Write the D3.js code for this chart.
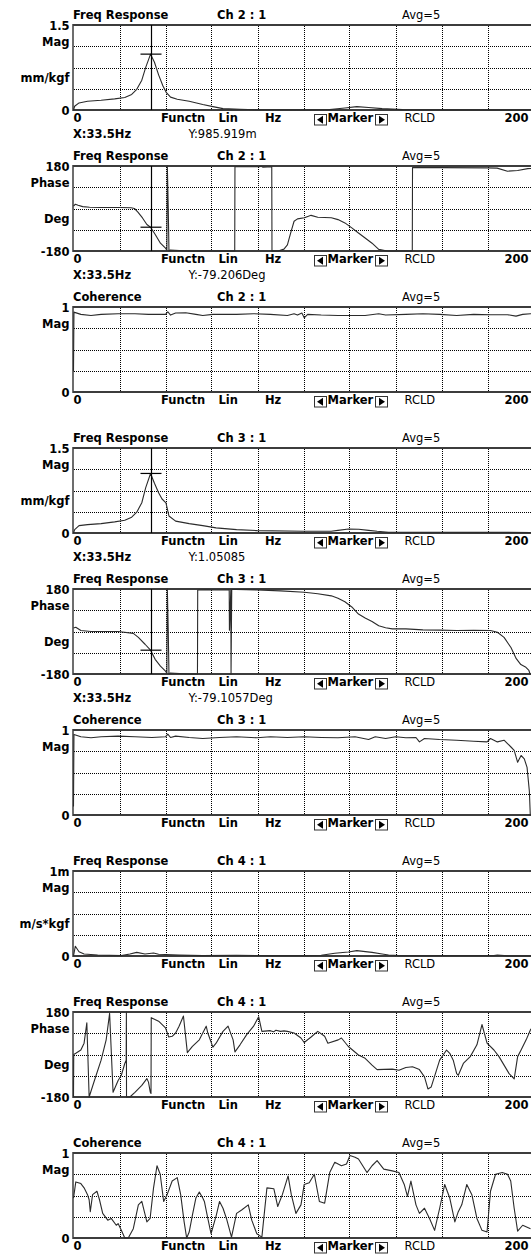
<!DOCTYPE html>
<html><head><meta charset="utf-8">
<script src="https://cdn.jsdelivr.net/npm/d3@7"></script>
<style>
html,body{margin:0;padding:0;background:#fff;}
svg{display:block;}
text{font-family:"DejaVu Sans",Verdana,sans-serif;font-size:11.5px;fill:#000;}
.b{font-weight:bold;}
</style></head><body>
<svg id="chart" width="531" height="1254"></svg>
<script>
// ---- measured traces: [frequency Hz, value] ----
const ch2Mag = [[0,0],[0.5,0.066],[2.4,0.125],[6.1,0.155],[12,0.173],[17.9,0.197],[22.3,0.221],[25.3,0.275],[27.5,0.365],[29.7,0.526],[31.4,0.753],[33.5,0.985919],[35.2,0.843],[37,0.62],[38.9,0.424],[40.4,0.305],[42.2,0.227],[45.1,0.191],[50.3,0.155],[56.2,0.096],[60.6,0.06],[65,0.024],[72.4,0.012],[79.8,0.005],[100,0.003],[111.4,0.01],[118,0.036],[123.2,0.06],[128.3,0.045],[134.2,0.024],[143,0.006],[160,0.003],[200,0.003]];

const ch2Phase = [[0,10],[0.8,18],[2,14],[4,8],[7,5],[12,4],[20,4],[25,3],[26.5,0],[28,-15],[30,-40],[31.9,-68],[33.5,-79.206],[35.6,-111],[37.8,-147],[40,-168],[40.6,-176],[40.8,180],[41.2,0],[41.5,-180],[42,-176],[46,-178],[50,-180],[70.1,-180],[70.2,177],[75,177],[81,177],[81.6,179],[82.4,175],[86.2,177],[86.3,-180],[89,-180],[91.5,-172],[93,-154],[94.4,-104],[95.9,-54],[97.4,-44],[100.4,-39],[103.3,-29],[106.2,-37],[112.1,-39],[115,-47],[118,-61],[121,-82],[123.9,-104],[126.8,-125],[129.8,-147],[132.7,-173],[136.4,-180],[147.3,-180],[147.4,173],[160,173],[179.8,172],[184.2,171],[188.7,158],[193.1,161],[197.5,169],[200,170]];

const ch2Coh = [[0,0.24],[0.2,0.94],[0.5,0.937],[3.2,0.913],[7.6,0.9],[12,0.913],[19.4,0.92],[26.7,0.92],[32.6,0.913],[40,0.913],[41,0.944],[42.2,0.905],[44.4,0.929],[48.8,0.933],[53.2,0.913],[56.2,0.9],[60.6,0.913],[70.9,0.913],[78.3,0.921],[85.6,0.913],[93,0.9],[95.9,0.921],[97.4,0.905],[99.3,0.929],[100.3,0.873],[101.8,0.913],[107.7,0.905],[115,0.9],[119.9,0.9],[126.8,0.9],[132.7,0.921],[135.7,0.905],[144.5,0.913],[151.9,0.921],[159.2,0.913],[166.6,0.9],[174,0.913],[181.3,0.909],[188.7,0.909],[192.4,0.893],[195.3,0.913],[198.7,0.921],[200,0.92]];

const ch3Mag = [[0,0],[0.5,0.059],[2.4,0.13],[6.1,0.148],[12,0.166],[17.9,0.196],[22.3,0.225],[25.3,0.279],[27.5,0.368],[29.7,0.534],[31.4,0.8],[33.5,1.05085],[35.2,0.877],[37,0.71],[38.5,0.6],[40.2,0.53],[41.5,0.3],[44.4,0.21],[50.3,0.166],[56.2,0.13],[62,0.09],[70.9,0.06],[79.8,0.042],[100,0.03],[112,0.03],[115,0.047],[119.6,0.071],[124,0.065],[128.3,0.047],[132,0.03],[137,0.012],[145,0.012],[200,0.01]];

const ch3Phase = [[0,15],[1,18],[3.2,4],[7.6,0],[19.4,0],[26,-8],[28.2,-25],[31.1,-54],[33.5,-79.1057],[35.5,-118],[37.8,-147],[40,-168],[40.6,-176],[40.8,180],[41.2,0],[41.5,-180],[42,-176],[46,-178],[50,-180],[53.9,-180],[54,176],[58,177],[62,176],[67.7,177],[67.8,5],[68.4,178],[68.5,-180],[68.8,178],[70.7,178],[79.8,176],[90,172],[100.4,166],[106.2,160],[112.1,151],[115,141],[118,126],[121,104],[123.9,74],[126.8,57],[129.8,42],[132.7,24],[135.7,16],[138.6,11],[144.5,11],[151.9,7],[159.2,6],[166.6,4],[174,5],[181.3,4],[184.3,-3],[187.2,-25],[190.2,-68],[192.5,-115],[194.5,-140],[196.5,-150],[198,-165],[198.5,-180],[200,-180]];

const ch3Coh = [[0,0.1],[0.2,0.948],[3.2,0.92],[7.6,0.908],[12,0.92],[19.4,0.928],[26.7,0.92],[34.1,0.912],[40,0.92],[41,0.952],[42.2,0.912],[44.4,0.928],[50.3,0.912],[56.2,0.9],[63.5,0.912],[70.9,0.92],[79.8,0.908],[85.6,0.92],[93,0.912],[100.3,0.92],[107.7,0.912],[115,0.908],[122.4,0.92],[128.3,0.888],[131.2,0.92],[135.7,0.9],[140.1,0.92],[144.5,0.908],[148.9,0.912],[150.4,0.86],[152.6,0.9],[159.2,0.888],[166.6,0.88],[174,0.868],[179.8,0.86],[181.3,0.9],[184.3,0.86],[187.2,0.88],[188.7,0.84],[190.2,0.8],[191.6,0.76],[193.1,0.62],[194.6,0.7],[196,0.66],[197.2,0.56],[198.2,0.28],[198.6,0],[200,0]];

const ch4Mag = [[0,0],[0.8,0.115e-3],[2.4,0.05e-3],[4.6,0.024e-3],[10.5,0.012e-3],[20.8,0.004e-3],[24.5,0.024e-3],[27.5,0.043e-3],[31.1,0.024e-3],[34.8,0.036e-3],[37,0.02e-3],[45.9,0.012e-3],[56.2,0.004e-3],[70.9,0.008e-3],[85.6,0.004e-3],[100.3,0.004e-3],[107.7,0.008e-3],[113.6,0.032e-3],[119.5,0.047e-3],[123.2,0.063e-3],[126.9,0.051e-3],[129.8,0.043e-3],[134.2,0.024e-3],[137,0.012e-3],[141.5,0.004e-3],[182.8,0.004e-3],[184.3,0.012e-3],[188.7,0.002e-3],[200,0.002e-3]];

const ch4Phase = [[0,-180],[0.1,0],[1,5],[3.2,19],[4.6,48],[5.8,134],[6.8,-180],[9.1,-110],[12,-24],[14.2,62],[15.7,174],[17.2,-160],[19.4,-110],[20.8,-88],[22.3,-38],[22.9,-24],[23,180],[23.05,-180],[24.5,-180],[26.7,-160],[29.7,-131],[31.9,-102],[32.6,-117],[33.4,-160],[33.7,-165],[33.8,156],[37,141],[40,113],[41.4,74],[42.9,77],[44.4,91],[45.9,120],[47.8,163],[49.5,8],[51.7,34],[54.7,62],[57.7,120],[58.4,91],[60.6,31],[62,48],[65,98],[67.2,120],[69.4,62],[70.2,11],[72.4,41],[75.3,84],[78.3,120],[80.5,160],[81.9,98],[85.6,101],[87,96],[88,103],[90,98],[91.5,100],[93,98],[95.9,91],[98.9,70],[100.3,51],[103.3,74],[106.2,98],[109.2,77],[110.6,48],[115.1,62],[116.5,70],[119.5,34],[123.9,-2],[126.8,-16],[129.8,-45],[132,-64],[135,-63],[138.6,-62],[141.5,-67],[144.5,-55],[147.4,-52],[150.4,-64],[152.6,-95],[154.1,-146],[155.5,-138],[157.8,-67],[159.2,-24],[162.2,19],[163.6,5],[165.1,-24],[166.6,-81],[167.3,-88],[169.5,-38],[172.5,-9],[175.4,41],[177.6,127],[179.8,48],[182.8,19],[185,-9],[187.2,-45],[189.4,-81],[191.6,-103],[193.1,-9],[194.6,19],[196.8,62],[198.7,105],[200,120]];

const ch4Coh = [[0,0.47],[1,0.66],[3.2,0.64],[4.6,0.59],[6.1,0.51],[6.8,0.45],[7.3,0.31],[8.3,0.51],[10.2,0.55],[11.3,0.45],[12.7,0.29],[14.9,0.21],[16.4,0.23],[18.6,0.15],[19.4,0.17],[20.8,0.09],[22.3,0],[23.8,0],[26,0.11],[28.2,0.39],[29.7,0.43],[31.9,0.19],[33.3,0.23],[34.8,0.59],[36.3,0.85],[37.7,0.75],[39.2,0.43],[40.7,0.51],[42.9,0.67],[45.1,0.71],[46.6,0.51],[48.1,0.19],[49.2,0],[50.3,0.07],[51.7,0.27],[53.2,0.47],[54.7,0.54],[56.2,0.47],[56.9,0.43],[58.4,0.23],[59.8,0.05],[62.1,0.27],[63.5,0.43],[65,0.35],[66.5,0.23],[68.7,0.01],[70.9,0.29],[73.1,0.33],[76,0.39],[77.5,0.21],[79.7,0.05],[81.9,0.01],[84.1,0.59],[87.1,0.58],[88.8,0.37],[90.8,0.51],[93.3,0.73],[94.7,0.51],[96.7,0.29],[98.9,0.39],[100.3,0.63],[102.5,0.65],[104.7,0.75],[106.9,0.43],[109.2,0.41],[111.4,0.77],[113.6,0.89],[116.5,0.85],[118.7,0.87],[120.2,0.97],[122.4,0.95],[123.9,0.93],[127.6,0.77],[129.8,0.85],[132,0.91],[134.9,0.81],[138.6,0.79],[141.5,0.77],[143.8,0.63],[145.2,0.49],[146.7,0.67],[148.9,0.39],[150.4,0.29],[152.6,0.35],[154.8,0.23],[157,0.09],[159.2,0.35],[161.4,0.63],[163.6,0.47],[165.8,0.19],[167.3,0.31],[168.8,0.39],[171,0.63],[173.2,0.51],[175.4,0.23],[177.6,0.09],[179.8,0.07],[181.3,0.55],[183.5,0.75],[186.4,0.77],[188.7,0.75],[190.1,0.67],[191.6,0.35],[193.1,0.08],[195.3,0.15],[198.7,0.11]];

// ---- axis / annotation text ----
const freqRange = [0, 200];
const freqGridStep = 20;
const xTickLabels = ["0", "200"];
const axisWords = ["Functn", "Lin", "Hz"];
const markerWord = "Marker";
const modeWord = "RCLD";
const avgLabel = "Avg=5";
const markerFreq = 33.5;
const markerReadoutX = "X:33.5Hz";

const panelTitles = ["Freq Response","Freq Response","Coherence","Freq Response","Freq Response","Coherence","Freq Response","Freq Response","Coherence"];
const channelLabels = ["Ch 2 : 1","Ch 2 : 1","Ch 2 : 1","Ch 3 : 1","Ch 3 : 1","Ch 3 : 1","Ch 4 : 1","Ch 4 : 1","Ch 4 : 1"];
const yTopLabels = ["1.5","180","1","1.5","180","1","1m","180","1"];
const yBottomLabels = ["0","-180","0","0","-180","0","0","-180","0"];
const yQuantityLabels = ["Mag","Phase","Mag","Mag","Phase","Mag","Mag","Phase","Mag"];
const yUnitLabels = ["mm/kgf","Deg","","mm/kgf","Deg","","m/s*kgf","Deg",""];
const yDomains = [[0,1.5],[-180,180],[0,1],[0,1.5],[-180,180],[0,1],[0,1e-3],[-180,180],[0,1]];
const traces = [ch2Mag, ch2Phase, ch2Coh, ch3Mag, ch3Phase, ch3Coh, ch4Mag, ch4Phase, ch4Coh];
// marker value shown on readout (null = no marker on that panel)
const markerValues = [0.985919, -79.206, null, 1.05085, -79.1057, null, null, null, null];
const markerReadoutY = ["Y:985.919m","Y:-79.206Deg",null,"Y:1.05085","Y:-79.1057Deg",null,null,null,null];

// ---- layout ----
const svg = d3.select("#chart");
const firstTop = 24.5, panelStep = 141.05, plotH = 85;
const plotLeft = 73.5, plotRight = 533.5;
const labelRight = 69.5;
const frameColor = "#3c3c3c", traceColor = "#2b2b2b";

const x = d3.scaleLinear().domain(freqRange).range([plotLeft, plotRight]);
const gridFreqs = d3.range(freqRange[0] + freqGridStep, freqRange[1], freqGridStep);

const defs = svg.append("defs");

traces.forEach((trace, i) => {
  const top = Math.round(firstTop + i * panelStep);
  const bottom = top + plotH;
  const y = d3.scaleLinear().domain(yDomains[i]).range([bottom, top]);
  const g = svg.append("g");

  defs.append("clipPath").attr("id", "clip" + i)
    .append("rect").attr("x", plotLeft - 1).attr("y", top - 1)
    .attr("width", plotRight - plotLeft + 2).attr("height", plotH + 2);

  // dotted grid (dash phase starts on whole pixels so dots stay crisp)
  const grid = g.append("g").attr("stroke", "#000").attr("stroke-width", 1).attr("stroke-dasharray", "1,1");
  gridFreqs.forEach(f => {
    const px = Math.round(x(f)) + 0.5;
    grid.append("line").attr("x1", px).attr("x2", px).attr("y1", top + 1).attr("y2", bottom);
  });
  const [d0, d1] = yDomains[i];
  [0.25, 0.5, 0.75].forEach(t => {
    const py = Math.round(y(d0 + (d1 - d0) * t)) + 0.5;
    grid.append("line").attr("x1", Math.ceil(plotLeft)).attr("x2", 531).attr("y1", py).attr("y2", py);
  });

  // frame (right side runs past the window edge)
  g.append("line").attr("x1", plotLeft - 0.5).attr("x2", 531).attr("y1", top).attr("y2", top)
    .attr("stroke", frameColor).attr("stroke-width", 2);
  g.append("line").attr("x1", plotLeft - 0.5).attr("x2", 531).attr("y1", bottom).attr("y2", bottom)
    .attr("stroke", frameColor).attr("stroke-width", 2);
  g.append("line").attr("x1", plotLeft - 0.5).attr("x2", plotLeft - 0.5).attr("y1", top - 1).attr("y2", bottom + 1)
    .attr("stroke", frameColor).attr("stroke-width", 1.5);

  // trace
  const line = d3.line().x(d => x(d[0])).y(d => y(d[1]));
  g.append("path").datum(trace).attr("d", line)
    .attr("fill", "none").attr("stroke", traceColor).attr("stroke-width", 1.1)
    .attr("stroke-linejoin", "round").attr("clip-path", `url(#clip${i})`);

  // marker cursor
  if (markerValues[i] !== null) {
    const mx = Math.round(x(markerFreq)) + 0.5;
    g.append("line").attr("x1", mx).attr("x2", mx).attr("y1", top).attr("y2", bottom)
      .attr("stroke", "#000").attr("stroke-width", 1.2);
    const my = y(markerValues[i]);
    g.append("line").attr("x1", mx - 11).attr("x2", mx + 10).attr("y1", my).attr("y2", my)
      .attr("stroke", "#000").attr("stroke-width", 1.2);
  }

  // header
  g.append("text").attr("class", "b").attr("x", 73).attr("y", top - 6).text(panelTitles[i]);
  g.append("text").attr("class", "b").attr("x", 217).attr("y", top - 6).text(channelLabels[i]);
  g.append("text").attr("x", 402).attr("y", top - 6).text(avgLabel);

  // y labels
  const yl = g.append("g").attr("text-anchor", "end");
  yl.append("text").attr("class", "b").attr("x", labelRight).attr("y", top + 4.5).text(yTopLabels[i]);
  yl.append("text").attr("class", "b").attr("x", labelRight).attr("y", top + 21).text(yQuantityLabels[i]);
  if (yUnitLabels[i]) yl.append("text").attr("class", "b").attr("x", labelRight).attr("y", top + 56.5).text(yUnitLabels[i]);
  yl.append("text").attr("class", "b").attr("x", labelRight).attr("y", bottom + 4.5).text(yBottomLabels[i]);

  // x axis row
  const ay = bottom + 12;
  g.append("text").attr("class", "b").attr("x", x(freqRange[0])).attr("y", ay).text(xTickLabels[0]);
  g.append("text").attr("class", "b").attr("x", 161).attr("y", ay).text(axisWords[0]);
  g.append("text").attr("class", "b").attr("x", 218.5).attr("y", ay).text(axisWords[1]);
  g.append("text").attr("class", "b").attr("x", 265).attr("y", ay).text(axisWords[2]);
  g.append("text").attr("x", 404.5).attr("y", ay).text(modeWord);
  g.append("text").attr("class", "b").attr("x", 504.5).attr("y", ay).text(xTickLabels[1]);

  // marker step buttons
  const by = bottom + 4, bh = 10.5;
  const btn = (bx, dir) => {
    g.append("rect").attr("x", bx + 0.5).attr("y", by + 0.5).attr("width", 12).attr("height", bh)
      .attr("fill", "#fff").attr("stroke", "#333").attr("stroke-width", 1);
    const cy = by + 0.5 + bh / 2, cx = bx + 6.5;
    const pts = dir < 0
      ? [[cx - 3.5, cy], [cx + 2.5, cy - 4], [cx + 2.5, cy + 4]]
      : [[cx + 3.5, cy], [cx - 2.5, cy - 4], [cx - 2.5, cy + 4]];
    g.append("polygon").attr("points", pts.map(p => p.join(",")).join(" ")).attr("fill", "#000");
  };
  btn(314, -1);
  g.append("text").attr("class", "b").attr("x", 327.5).attr("y", ay).text(markerWord);
  btn(375, 1);

  // marker readout
  if (markerReadoutY[i]) {
    g.append("text").attr("class", "b").attr("x", 73).attr("y", bottom + 27.5).text(markerReadoutX);
    g.append("text").attr("x", 188.5).attr("y", bottom + 27.5).text(markerReadoutY[i]);
  }
});
</script>
</body></html>
